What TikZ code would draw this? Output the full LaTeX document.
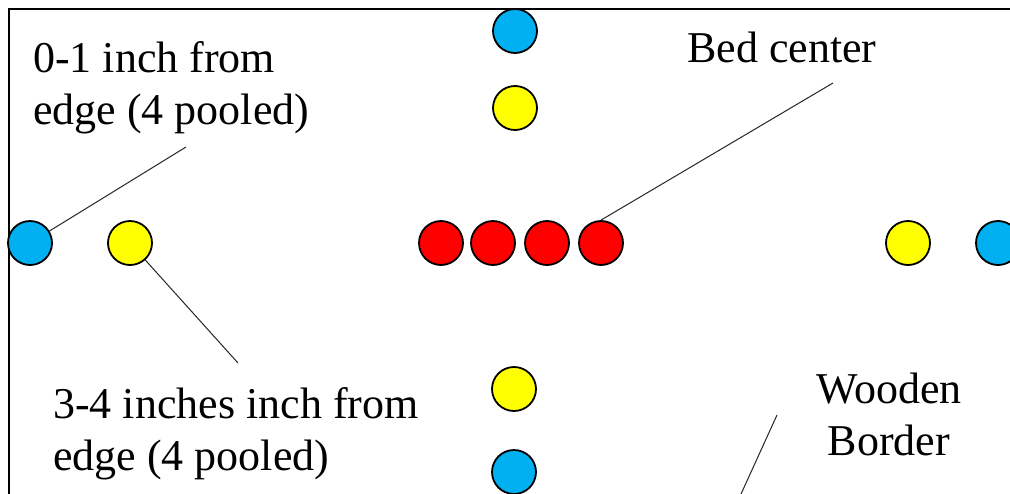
\documentclass[tikz,border=0pt]{standalone}
\usepackage{fontspec}
\setmainfont{Liberation Serif}
\definecolor{dotblue}{RGB}{0,176,240}
\definecolor{dotyellow}{RGB}{255,255,0}
\definecolor{dotred}{RGB}{255,0,0}
\begin{document}
\begin{tikzpicture}[x=1pt,y=-1pt,
  dot/.style={circle,draw=black,line width=1.8pt,minimum size=44pt,inner sep=0pt},
  bluedot/.style={dot,fill=dotblue},
  yellowdot/.style={dot,fill=dotyellow},
  reddot/.style={dot,fill=dotred},
  lbl/.style={inner sep=0pt,font=\fontsize{44}{52}\selectfont},
  leader/.style={draw=black!85,line width=1pt}]
\useasboundingbox (0,0) rectangle (1010,493);
\clip (0,0) rectangle (1010,493);
% bed frame (left and top edges)
\draw[line width=2.8pt] (9,520) -- (9,9) -- (1030,9);
% sampling points
\node[bluedot]   (bL) at (30,243) {};
\node[yellowdot] (yL) at (130,243) {};
\node[reddot]    (r1) at (441,243) {};
\node[reddot]    (r2) at (493,243) {};
\node[reddot]    (r3) at (547,243) {};
\node[reddot]    (r4) at (601,243) {};
\node[yellowdot] (yR) at (908,243) {};
\node[bluedot]   (bR) at (998,243) {};
\node[bluedot]   (bT) at (515,31) {};
\node[yellowdot] (yT) at (515,108) {};
\node[yellowdot] (yB) at (514,389) {};
\node[bluedot]   (bB) at (514,472) {};
% labels (multi-line labels are placed by the baseline of their last line)
\node[lbl,anchor=base west,align=left] (tEdge) at (33,124)
  {0-1 inch from\\edge (4 pooled)};
\node[lbl,anchor=base west] (tCenter) at (687,62) {Bed center};
\node[lbl,anchor=base west,align=left] (tInner) at (53,470)
  {3-4 inches inch from\\edge (4 pooled)};
\node[lbl,anchor=base,align=center] (tWood) at (889,455) {Wooden\\Border};
% leader line ends
\coordinate (eEdge) at (186,147);
\coordinate (eCenter) at (833,83);
\coordinate (eInner) at (238,363);
\coordinate (eWoodTop) at (777,415);
\coordinate (eWoodBot) at (736,505);
% leader lines
\draw[leader] (bL) -- (eEdge);
\draw[leader] (r4.north) -- (eCenter);
\draw[leader] (yL) -- (eInner);
\draw[leader] (eWoodTop) -- (eWoodBot);
\end{tikzpicture}
\end{document}
